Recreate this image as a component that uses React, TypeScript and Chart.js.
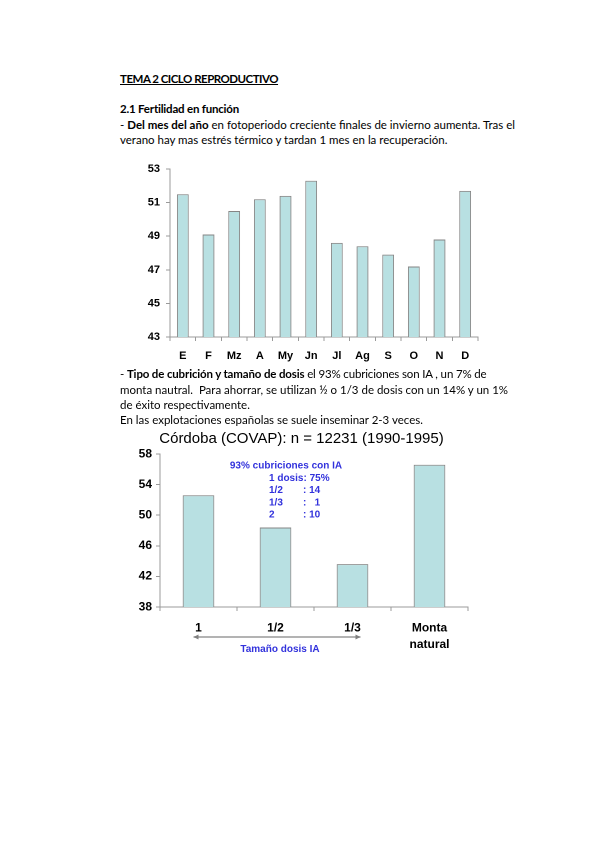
import React, { useEffect, useRef } from 'react';
import { Chart, registerables } from 'chart.js';

Chart.register(...registerables);

// Fertilidad (%) según el mes del año
const monthLabels = ['E', 'F', 'Mz', 'A', 'My', 'Jn', 'Jl', 'Ag', 'S', 'O', 'N', 'D'];
const monthFertility = [51.5, 49.1, 50.5, 51.2, 51.4, 52.3, 48.6, 48.4, 47.9, 47.2, 48.8, 51.7];
const monthAxis = [43, 53, 2];

// Fertilidad (%) según tipo de cubrición / tamaño de dosis
const doseLabels = ['1', '1/2', '1/3', ['Monta', 'natural']];
const doseFertility = [52.6, 48.4, 43.6, 56.6];
const doseAxis = [38, 58, 4];

const doseTitle = 'Córdoba (COVAP): n = 12231 (1990-1995)';
const doseNoteHeader = '93% cubriciones con IA';
const doseNoteRows = [
  ['1 dosis: 75%', ''],
  ['1/2', ': 14'],
  ['1/3', ':   1'],
  ['2', ': 10'],
];
const doseArrowLabel = 'Tamaño dosis IA';

const FILL = '#b8e0e2';
const EDGE = '#858585';
const AXIS = '#9a9a9a';
const BLUE = '#3232dc';
const ARIAL = "Arial, 'Liberation Sans', sans-serif";

const doseNotes = {
  id: 'doseNotes',
  afterDraw(chart: Chart) {
    const { ctx, chartArea } = chart;
    const x = chart.scales.x;
    const left = chartArea.left;
    const top = chartArea.top;
    ctx.save();
    ctx.fillStyle = BLUE;
    ctx.font = `bold 10px ${ARIAL}`;
    ctx.textBaseline = 'middle';
    ctx.textAlign = 'center';
    ctx.fillText(doseNoteHeader, left + 126, top + 11.5);
    ctx.textAlign = 'left';
    doseNoteRows.forEach(([a, b], i) => {
      const y = top + 24 + i * 12.3;
      ctx.fillText(a, left + 109, y);
      if (b) ctx.fillText(b, left + 143, y);
    });

    // flecha bajo las dosis de IA
    const x0 = x.getPixelForValue(0) - 5;
    const x1 = x.getPixelForValue(2) + 8;
    const ya = chartArea.bottom + 30;
    ctx.strokeStyle = AXIS;
    ctx.fillStyle = '#808080';
    ctx.lineWidth = 1.5;
    ctx.beginPath();
    ctx.moveTo(x0, ya);
    ctx.lineTo(x1, ya);
    ctx.stroke();
    ctx.beginPath();
    ctx.moveTo(x0, ya);
    ctx.lineTo(x0 + 5, ya - 2.5);
    ctx.lineTo(x0 + 5, ya + 2.5);
    ctx.closePath();
    ctx.fill();
    ctx.beginPath();
    ctx.moveTo(x1, ya);
    ctx.lineTo(x1 - 5, ya - 2.5);
    ctx.lineTo(x1 - 5, ya + 2.5);
    ctx.closePath();
    ctx.fill();

    ctx.fillStyle = BLUE;
    ctx.textAlign = 'center';
    ctx.fillText(doseArrowLabel, (x0 + x1) / 2 + 3, ya + 12);
    ctx.restore();
  },
};

const axisScales = (
  axis: number[],
  yWidth: number,
  xHeight: number,
  fontSize: number,
  yPad: number,
  xPad: number
) => ({
  x: {
    offset: true,
    border: { color: AXIS, width: 1 },
    grid: { offset: true, drawOnChartArea: false, drawTicks: true, tickLength: 4, color: AXIS },
    ticks: {
      color: '#000',
      padding: xPad,
      maxRotation: 0,
      autoSkip: false,
      font: { family: ARIAL, size: fontSize, weight: 'bold' as const, lineHeight: 1.4 },
    },
    afterFit: (scale: any) => {
      scale.height = xHeight;
    },
  },
  y: {
    min: axis[0],
    max: axis[1],
    border: { color: AXIS, width: 1 },
    grid: { drawOnChartArea: false, drawTicks: true, tickLength: 4, color: AXIS },
    ticks: {
      stepSize: axis[2],
      color: '#000',
      padding: yPad,
      font: { family: ARIAL, size: fontSize, weight: 'bold' as const },
    },
    afterFit: (scale: any) => {
      scale.width = yWidth;
    },
  },
});

const monthConfig: any = {
  type: 'bar',
  data: {
    labels: monthLabels,
    datasets: [
      {
        data: monthFertility,
        backgroundColor: FILL,
        borderColor: EDGE,
        borderWidth: 1,
        barPercentage: 0.46,
        categoryPercentage: 1,
      },
    ],
  },
  options: {
    animation: false,
    responsive: false,
    devicePixelRatio: 2,
    layout: { padding: { top: 14, right: 12, left: 0, bottom: 0 } },
    plugins: { legend: { display: false }, tooltip: { enabled: false } },
    scales: axisScales(monthAxis, 40, 33, 11, 6, 7.5),
  },
};

// padding izquierdo para que el título quede centrado como en el original
const doseConfig: any = {
  type: 'bar',
  data: {
    labels: doseLabels,
    datasets: [
      {
        data: doseFertility,
        backgroundColor: FILL,
        borderColor: EDGE,
        borderWidth: 1,
        barPercentage: 0.41,
        categoryPercentage: 1,
      },
    ],
  },
  options: {
    animation: false,
    responsive: false,
    devicePixelRatio: 2,
    layout: { padding: { top: 0, right: 24, left: 25, bottom: 0 } },
    plugins: {
      legend: { display: false },
      tooltip: { enabled: false },
      title: {
        display: true,
        text: doseTitle,
        color: '#000',
        font: { family: ARIAL, size: 15, weight: 'normal' as const, lineHeight: 1.2 },
        padding: { top: 5, bottom: 6 },
      },
    },
    scales: axisScales(doseAxis, 25, 58, 12, 4, 8.6),
  },
  plugins: [doseNotes],
};

const ChartCanvas: React.FC<{ config: any; left: number; top: number; width: number; height: number }> = ({
  config,
  left,
  top,
  width,
  height,
}) => {
  const canvasRef = useRef<HTMLCanvasElement>(null);

  useEffect(() => {
    if (!canvasRef.current) return;
    const chart = new Chart(canvasRef.current, config);
    return () => chart.destroy();
  }, [config]);

  return (
    <div style={{ position: 'absolute', left, top, width, height }}>
      <canvas ref={canvasRef} width={width} height={height} style={{ width, height }} />
    </div>
  );
};

const textFont = "Lato, 'Open Sans', sans-serif";

const Line: React.FC<{ top: number; children: React.ReactNode; style?: React.CSSProperties }> = ({
  top,
  children,
  style,
}) => (
  <div
    style={{
      position: 'absolute',
      left: 120,
      top,
      whiteSpace: 'pre',
      fontFamily: textFont,
      fontSize: 11.5,
      lineHeight: '15px',
      color: '#000',
      ...style,
    }}
  >
    {children}
  </div>
);

const App: React.FC = () => (
  <div
    style={{
      position: 'absolute',
      left: 0,
      top: 0,
      width: 599,
      height: 848,
      background: '#fff',
      overflow: 'hidden',
    }}
  >
    <Line top={71} style={{ fontWeight: 'bold', textDecoration: 'underline', letterSpacing: '-0.5px' }}>
      TEMA 2 CICLO REPRODUCTIVO
    </Line>
    <Line top={101} style={{ fontWeight: 'bold', letterSpacing: '-0.2px' }}>
      2.1 Fertilidad en función
    </Line>
    <Line top={117}>
      - <b>Del mes del año</b> en fotoperiodo creciente finales de invierno aumenta. Tras el
    </Line>
    <Line top={132}>verano hay mas estrés térmico y tardan 1 mes en la recuperación.</Line>

    <ChartCanvas config={monthConfig} left={130} top={155} width={360} height={215} />

    <Line top={366} style={{ letterSpacing: '-0.15px' }}>
      - <b>Tipo de cubrición y tamaño de dosis</b> el 93% cubriciones son IA , un 7% de
    </Line>
    <Line top={382}>monta nautral.  Para ahorrar, se utilizan ½ o 1/3 de dosis con un 14% y un 1%</Line>
    <Line top={397}>de éxito respectivamente.</Line>
    <Line top={412}>En las explotaciones españolas se suele inseminar 2-3 veces.</Line>

    <ChartCanvas config={doseConfig} left={110} top={425} width={382} height={240} />
  </div>
);

export default App;
